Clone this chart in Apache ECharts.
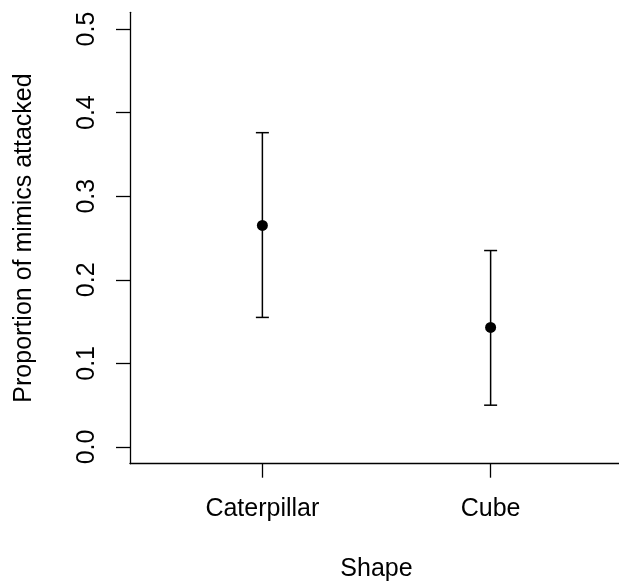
<!DOCTYPE html>
<html>
<head>
<meta charset="utf-8">
<script src="https://cdn.jsdelivr.net/npm/echarts@6/dist/echarts.min.js"></script>
<style>
  html, body { margin: 0; padding: 0; background: #fff; }
  #chart { width: 619px; height: 586px; }
</style>
</head>
<body>
<div id="chart"></div>
<script>
const categories = ["Caterpillar", "Cube"];
const means = [0.265, 0.143];
const lowers = [0.155, 0.050];
const uppers = [0.376, 0.235];
const yTicks = [0, 0.1, 0.2, 0.3, 0.4, 0.5];
const xPositions = [1, 2];

const font = '"Liberation Sans", Arial, Helvetica, sans-serif';
const ink = "#000";

const chart = echarts.init(document.getElementById("chart"));

chart.setOption({
  animation: false,
  backgroundColor: "#fff",
  grid: { left: 130, top: 12.3, width: 493, height: 451.4, outerBoundsMode: "none" },
  xAxis: {
    type: "value",
    min: 0.42,
    max: 2.58,
    splitLine: { show: false },
    axisLine: { onZero: false, lineStyle: { color: ink, width: 1.3 } },
    axisTick: { customValues: xPositions, length: 14, lineStyle: { color: ink, width: 1.3 } },
    axisLabel: {
      customValues: xPositions,
      formatter: (v) => categories[Math.round(v) - 1],
      color: ink,
      fontSize: 25,
      fontFamily: font,
      margin: 33,
    },
    name: "Shape",
    nameLocation: "middle",
    nameGap: 93,
    nameTextStyle: { color: ink, fontSize: 25, fontFamily: font },
  },
  yAxis: {
    type: "value",
    min: -0.02,
    max: 0.52,
    splitLine: { show: false },
    axisLine: { show: true, onZero: false, lineStyle: { color: ink, width: 1.3 } },
    axisTick: { show: true, customValues: yTicks, length: 14, lineStyle: { color: ink, width: 1.3 } },
    axisLabel: {
      customValues: yTicks,
      formatter: (v) => Number(v).toFixed(1),
      rotate: 90,
      color: ink,
      fontSize: 25,
      fontFamily: font,
      margin: 30,
    },
    name: "Proportion of mimics attacked",
    nameLocation: "middle",
    nameRotate: 90,
    nameGap: 93,
    nameTextStyle: { color: ink, fontSize: 25, fontFamily: font },
  },
  series: [
    {
      type: "custom",
      data: xPositions.map((x, i) => [x, lowers[i], uppers[i]]),
      renderItem(params, api) {
        const lo = api.coord([api.value(0), api.value(1)]);
        const hi = api.coord([api.value(0), api.value(2)]);
        const half = 6.5;
        const style = { stroke: ink, lineWidth: 1.5 };
        return {
          type: "group",
          children: [
            { type: "line", shape: { x1: lo[0], y1: lo[1], x2: hi[0], y2: hi[1] }, style },
            { type: "line", shape: { x1: hi[0] - half, y1: hi[1], x2: hi[0] + half, y2: hi[1] }, style },
            { type: "line", shape: { x1: lo[0] - half, y1: lo[1], x2: lo[0] + half, y2: lo[1] }, style },
          ],
        };
      },
      z: 2,
    },
    {
      type: "scatter",
      data: xPositions.map((x, i) => [x, means[i]]),
      symbol: "circle",
      symbolSize: 11,
      itemStyle: { color: ink, opacity: 1 },
      z: 3,
    },
  ],
});
</script>
</body>
</html>
